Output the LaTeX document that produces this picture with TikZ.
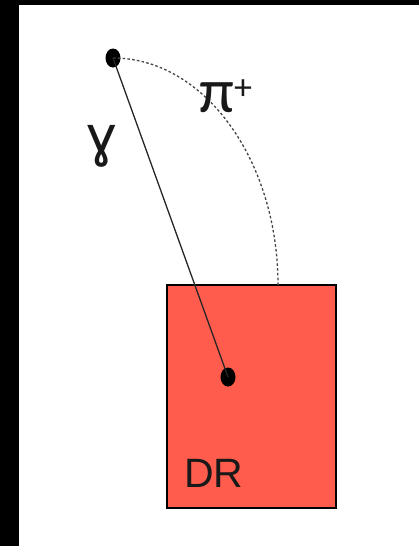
\documentclass[tikz,border=0pt]{standalone}
\usepackage{fontspec}
\setmainfont{Liberation Sans}
\newfontfamily\calfont{Carlito}
\usetikzlibrary{shapes.geometric}
\definecolor{drred}{RGB}{255,92,77}
\begin{document}
\begin{tikzpicture}[x=1pt,y=-1pt,
  dot/.style={ellipse,fill=black,inner sep=0pt,minimum width=15pt,minimum height=19pt},
  detector/.style={rectangle,draw=black,line width=1.3pt,fill=drred,minimum width=169pt,minimum height=223pt,inner sep=0pt},
  track/.style={line width=1.3pt,black!85},
  pion/.style={line width=1.3pt,gray!55!black,dash pattern=on 2.6pt off 2.2pt},
  lbl/.style={inner sep=0pt,text=black!90}]
\useasboundingbox (0,0) rectangle (419,546);
\fill[black] (0,0) rectangle (19,546);
\fill[black] (0,0) rectangle (419,5);
\node[detector] (dr) at (251.5,396.5) {};
\node[lbl,anchor=base west] (drlabel) at (184,487) {\fontsize{41}{45}\selectfont DR};
\node[dot] (top) at (113,58) {};
\node[dot] (hit) at (228,377) {};
\coordinate (pe) at (278,285);
\draw[pion] (top.center) .. controls (204,58) and (278,160) .. (pe);
\draw[track] (top.center) -- (hit.center);
\node[lbl] (gamma) at (102,146) {\fontsize{57}{60}\selectfont ɣ};
\node[lbl,anchor=base west] (pi) at (199,112) {\calfont\fontsize{63}{66}\selectfont π\raisebox{13pt}{\fontsize{36}{38}\selectfont +}};
\end{tikzpicture}
\end{document}
